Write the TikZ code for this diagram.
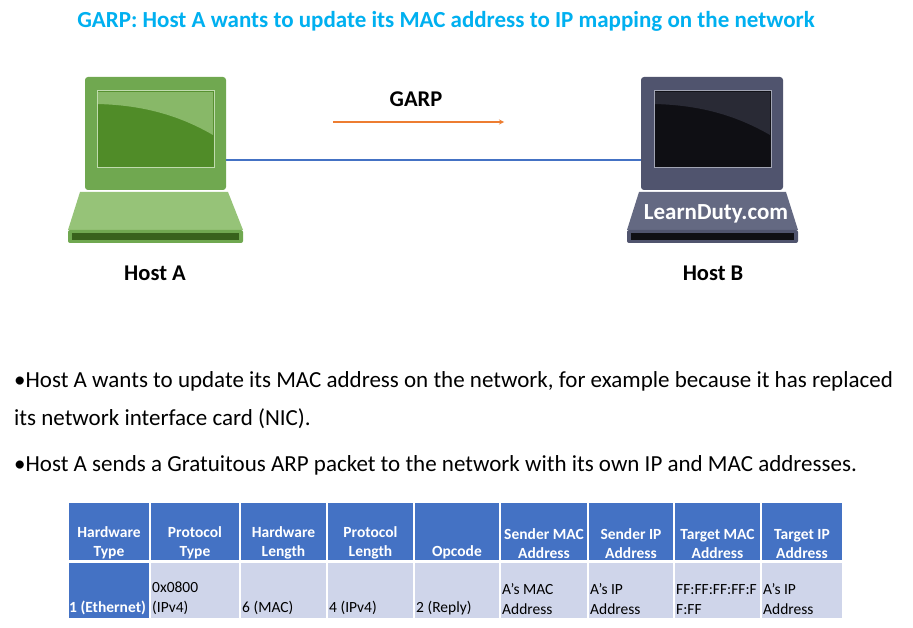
\documentclass[tikz,border=0pt]{standalone}
\usepackage{fontspec}
\setmainfont{Carlito}
\begin{document}
\begin{tikzpicture}[x=1pt,y=-1pt,
 hdr/.style={fill=hblue,draw=white,line width=1.5pt},
 dat/.style={fill=rowc,draw=white,line width=1.5pt},
 ht/.style={font=\fontsize{15.5}{19}\selectfont\bfseries,text=white,align=center,anchor=south,inner sep=2pt},
 dt/.style={font=\fontsize{15.5}{20}\selectfont,align=left,anchor=south west,inner sep=1pt},
 lbl/.style={font=\fontsize{22.5}{26}\selectfont\bfseries},
 bul/.style={font=\fontsize{23}{27}\selectfont,anchor=west,inner sep=0pt}]
\definecolor{hblue}{RGB}{68,114,196}
\definecolor{rowc}{RGB}{207,213,234}
\definecolor{ttl}{RGB}{0,176,240}
\definecolor{orng}{RGB}{237,125,49}
\definecolor{lnk}{RGB}{68,114,196}
\definecolor{gA}{RGB}{112,168,80}\definecolor{gAl}{RGB}{150,195,120}\definecolor{gAs}{RGB}{80,140,40}
\definecolor{bB}{RGB}{80,84,110}\definecolor{bBl}{RGB}{100,105,130}\definecolor{bBs}{RGB}{15,15,20}
\useasboundingbox (0,0) rectangle (913,628);
\fill[white] (0,0) rectangle (913,628);
\node[font=\fontsize{23}{27}\selectfont\bfseries,text=ttl] (title) at (446,21) {GARP: Host A wants to update its MAC address to IP mapping on the network};
% laptop A
\fill[gAl] (80,192) -- (228,192) -- (243,230) -- (68,230) -- cycle;
\fill[gA,rounded corners=2pt] (68,230) rectangle (243,243);
\fill[gAs!70!black] (72,233) rectangle (239,240);
\fill[gA,rounded corners=3pt] (85,77) rectangle (226,190);
\fill[gAs,draw=gAl!60!white,line width=1pt] (97,91) rectangle (214,168);
\fill[gAl!80!gAs] (98,92) -- (213,92) -- (213,135) .. controls (170,110) and (130,105) .. (98,104) -- cycle;
\coordinate (pA) at (226,160);
% laptop B
\fill[bBl] (639,192) -- (786,192) -- (798,230) -- (627,230) -- cycle;
\fill[bB,rounded corners=2pt] (627,230) rectangle (798,243);
\fill[bBs] (631,233) rectangle (794,240);
\fill[bB,rounded corners=3pt] (641,77) rectangle (783,190);
\fill[bBs,draw=bBl!60!white,line width=1pt] (654,91) rectangle (771,168);
\fill[bBs!70!bBl] (655,92) -- (770,92) -- (770,135) .. controls (727,110) and (687,105) .. (655,104) -- cycle;
\node[font=\fontsize{23}{26}\selectfont\bfseries,text=white] (ld) at (716,214) {LearnDuty.com};
\coordinate (pB) at (641,160);
\draw[lnk,line width=1.2pt] (pA) -- (pB);
\coordinate (ar1) at (333,122); \coordinate (ar2) at (504,122);
\draw[orng,line width=1.2pt,-stealth] (ar1) -- (ar2);
\node[lbl] (garp) at (416,99) {GARP};
\node[lbl] (ha) at (155,273) {Host A};
\node[lbl] (hb) at (713,273) {Host B};
\node[bul] (b1) at (14,381) {•Host A wants to update its MAC address on the network, for example because it has replaced};
\node[bul] (b2) at (14,419) {its network interface card (NIC).};
\node[bul] (b3) at (14,465) {•Host A sends a Gratuitous ARP packet to the network with its own IP and MAC addresses.};
% table
\foreach \a/\b/\h/\d [count=\i] in {68/150/{Hardware\\Type}/{},150/240/{Protocol\\Type}/{0x0800\\(IPv4)},240/327/{Hardware\\Length}/{6 (MAC)},327/414/{Protocol\\Length}/{4 (IPv4)},414/500/{Opcode}/{2 (Reply)},500/588/{Sender MAC\\Address}/{A's MAC\\Address},588/674/{Sender IP\\Address}/{A's IP\\Address},674/761/{Target MAC\\Address}/{FF:FF:FF:FF:F\\F:FF},761/843/{Target IP\\Address}/{A's IP\\Address}}{
 \fill[hdr] (\a,502) rectangle (\b,561);
 \node[ht] (h\i) at ({(\a+\b)/2},561) {\h};
 \ifnum\i=1
  \fill[hdr] (\a,562) rectangle (\b,619);
 \else
  \fill[dat] (\a,562) rectangle (\b,619);
  \node[dt] (d\i) at (\a+1,616) {\d};
 \fi
}
\node[dt,text=white,font=\fontsize{15.5}{20}\selectfont\bfseries] (d1) at (68,616) {1 (Ethernet)};
\end{tikzpicture}
\end{document}
